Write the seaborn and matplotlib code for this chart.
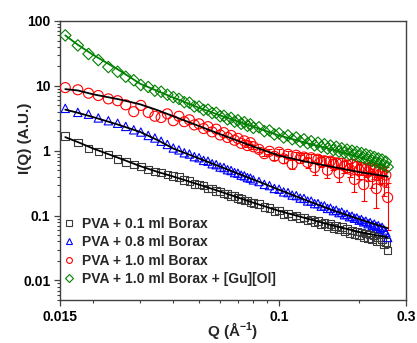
# ==============================
# IMPORT LIBRARIES
# ==============================
import numpy as np
import matplotlib
matplotlib.use('Agg')
import matplotlib.pyplot as plt
from matplotlib.lines import Line2D
from matplotlib.ticker import FixedLocator, FixedFormatter, NullFormatter, LogLocator
import seaborn as sns


# ==============================
# DATA
# ==============================
q = [0.0157, 0.0175, 0.0192, 0.0209, 0.0228, 0.0247, 0.0265, 0.0284, 0.0302, 0.0322,
     0.0341, 0.0360, 0.0380, 0.0400,
     0.042, 0.044, 0.046, 0.048, 0.050, 0.052, 0.054, 0.056, 0.058, 0.060,
     0.062, 0.064, 0.066, 0.068, 0.070, 0.072, 0.074, 0.076, 0.078, 0.080,
     0.084, 0.088, 0.092, 0.096, 0.100, 0.104, 0.108, 0.112, 0.116, 0.120,
     0.124, 0.128, 0.132, 0.136, 0.140, 0.144, 0.148, 0.152, 0.156, 0.160,
     0.164, 0.168, 0.172, 0.176, 0.180, 0.184, 0.188, 0.192, 0.196, 0.200,
     0.204, 0.208, 0.212, 0.216, 0.220, 0.224, 0.228, 0.232, 0.236, 0.240,
     0.244, 0.248, 0.252, 0.256]

i_01 = [1.70, 1.33, 1.08, 0.97, 0.87, 0.75, 0.67, 0.61, 0.57, 0.51, 0.48, 0.46, 0.43, 0.41,
        0.39, 0.35, 0.34, 0.31, 0.30, 0.29, 0.26, 0.26, 0.24, 0.235, 0.22, 0.215, 0.20, 0.20,
        0.185, 0.18, 0.17, 0.17, 0.16, 0.155,
        0.15, 0.135, 0.13, 0.118, 0.12, 0.105, 0.108, 0.097, 0.10, 0.091,
        0.093, 0.084, 0.087, 0.079, 0.082, 0.074, 0.077, 0.069, 0.074, 0.065,
        0.069, 0.061, 0.066, 0.057, 0.062, 0.054, 0.059, 0.051, 0.057, 0.049,
        0.055, 0.047, 0.053, 0.045, 0.051, 0.043, 0.049, 0.041, 0.047, 0.040,
        0.044, 0.036, 0.039, 0.029]

i_08 = [4.5, 3.9, 3.65, 3.2, 2.9, 2.65, 2.37, 2.1, 1.94, 1.72, 1.57, 1.40, 1.25, 1.10,
        1.03, 0.93, 0.89, 0.81, 0.78, 0.71, 0.69, 0.63, 0.61, 0.56, 0.55, 0.51, 0.495, 0.46,
        0.45, 0.42, 0.41, 0.385, 0.378, 0.355,
        0.335, 0.303, 0.29, 0.262, 0.255, 0.232, 0.226, 0.207, 0.203, 0.186,
        0.184, 0.168, 0.167, 0.153, 0.153, 0.14, 0.141, 0.129, 0.13, 0.119,
        0.121, 0.111, 0.113, 0.103, 0.105, 0.096, 0.098, 0.091, 0.092, 0.085,
        0.087, 0.080, 0.082, 0.075, 0.078, 0.071, 0.074, 0.068, 0.070, 0.064,
        0.066, 0.060, 0.055, 0.046]

i_10 = [9.4, 8.7, 7.7, 7.1, 6.3, 5.9, 5.1, 4.0, 5.0, 3.9, 3.4, 3.25, 3.7, 2.9,
        3.4, 2.8, 3.0, 2.5, 2.6, 2.2, 2.35, 1.95, 2.15, 1.75, 1.9, 1.6, 1.72, 1.45,
        1.55, 1.3, 1.42, 1.2, 1.33, 1.15,
        1.05, 0.9, 0.98, 0.82, 0.95, 0.75, 0.88, 0.62, 0.85, 0.76,
        0.80, 0.66, 0.78, 0.55, 0.74, 0.68, 0.70, 0.50, 0.69, 0.62,
        0.65, 0.45, 0.64, 0.58, 0.60, 0.52, 0.62, 0.36, 0.57, 0.50,
        0.55, 0.30, 0.52, 0.47, 0.55, 0.40, 0.50, 0.26, 0.48, 0.44,
        0.46, 0.34, 0.42, 0.19]

err_10 = [0] * 30 + [0.06, 0.06, 0.07, 0.07,
          0.08, 0.08, 0.09, 0.09, 0.10, 0.10, 0.10, 0.10, 0.11, 0.11,
          0.11, 0.11, 0.12, 0.12, 0.12, 0.12, 0.12, 0.12, 0.12, 0.12,
          0.12, 0.12, 0.12, 0.12, 0.13, 0.13, 0.13, 0.13, 0.13, 0.13,
          0.13, 0.13, 0.13, 0.13, 0.13, 0.13, 0.13, 0.13, 0.13, 0.13,
          0.14, 0.14, 0.14, 0.13]

i_gu = [60, 42, 31, 25, 19.5, 16.5, 13.8, 12.2, 10.3, 9.6, 8.4, 8.1, 7.3, 6.7,
        6.3, 5.6, 5.5, 4.8, 4.8, 4.25, 4.3, 3.8, 3.85, 3.4, 3.45, 3.05, 3.2, 2.8,
        2.95, 2.6, 2.75, 2.42, 2.55, 2.25,
        2.3, 2.0, 2.05, 1.78, 1.85, 1.6, 1.72, 1.5, 1.6, 1.38,
        1.5, 1.3, 1.4, 1.21, 1.33, 1.14, 1.26, 1.08, 1.2, 1.02,
        1.15, 0.97, 1.09, 0.93, 1.04, 0.88, 1.0, 0.85, 0.96, 0.82,
        0.92, 0.77, 0.88, 0.73, 0.84, 0.7, 0.8, 0.66, 0.76, 0.63,
        0.73, 0.6, 0.68, 0.56]

# fitted curves
fit_q = [0.0157, 0.0175, 0.02, 0.025, 0.03, 0.035, 0.04, 0.05, 0.06, 0.08, 0.1, 0.13, 0.16, 0.2, 0.256]
fit_01 = [1.62, 1.36, 1.08, 0.77, 0.58, 0.47, 0.40, 0.30, 0.235, 0.158, 0.118, 0.088, 0.070, 0.056, 0.046]
fit_08 = [4.3, 3.85, 3.3, 2.5, 1.95, 1.45, 1.08, 0.76, 0.57, 0.36, 0.25, 0.165, 0.12, 0.088, 0.064]
fit_10 = [8.9, 8.5, 7.4, 6.2, 5.2, 4.2, 3.4, 2.4, 1.8, 1.16, 0.84, 0.66, 0.56, 0.47, 0.40]
fit_gu = [60, 43, 30, 17.5, 10.8, 8.3, 6.6, 4.6, 3.5, 2.35, 1.72, 1.28, 1.03, 0.8, 0.55]

labels = ["PVA + 0.1 ml Borax", "PVA + 0.8 ml Borax",
          "PVA + 1.0 ml Borax", "PVA + 1.0 ml Borax + [Gu][Ol]"]

x_major = [0.015, 0.1, 0.3]
x_major_labels = ["0.015", "0.1", "0.3"]
x_minor = [0.02, 0.03, 0.04, 0.05, 0.06, 0.07, 0.08, 0.09, 0.2]
y_major = [0.01, 0.1, 1, 10, 100]
y_major_labels = ["0.01", "0.1", "1", "10", "100"]


# ==============================
# STYLE
# ==============================
sns.set_style("ticks")
plt.rcParams['font.family'] = ['Liberation Sans', 'DejaVu Sans']
plt.rcParams['font.weight'] = 'bold'
plt.rcParams['mathtext.fontset'] = 'custom'
plt.rcParams['mathtext.rm'] = 'Liberation Sans:bold'
plt.rcParams['mathtext.bf'] = 'Liberation Sans:bold'
plt.rcParams['mathtext.default'] = 'bf'

SPINE = '#404040'

series = [
    (i_01, fit_01, 's', '#3a3a3a', 'black', 30),
    (i_08, fit_08, '^', '#0000ff', 'black', 36),
    (i_10, fit_10, 'o', '#ff0000', 'black', 52),
    (i_gu, fit_gu, 'D', '#008000', '#008000', 34),
]


# ==============================
# PLOT
# ==============================
fig = plt.figure(figsize=(4.17, 3.43), dpi=100)
ax = fig.add_axes([0.1439, 0.1254, 0.8297, 0.8134])
ax.set_xscale('log')
ax.set_yscale('log')

q_arr = np.array(q)
err_arr = np.array(err_10)
i10_arr = np.array(i_10)
mask = err_arr > 0
ax.errorbar(q_arr[mask], i10_arr[mask], yerr=err_arr[mask], fmt='none',
            ecolor='#ff0000', elinewidth=0.8, capsize=2.5, capthick=0.8, zorder=2)

for vals, fit, marker, color, line_color, size in series:
    sns.scatterplot(x=q, y=vals, marker=marker, s=size, color=color,
                    facecolor='none', edgecolor=color, linewidth=0.8,
                    ax=ax, legend=False, zorder=3)

for vals, fit, marker, color, line_color, size in series:
    sns.lineplot(x=fit_q, y=fit, color=line_color, linewidth=1.3,
                 estimator=None, sort=False, ax=ax, zorder=4)

ax.set_xlim(0.015, 0.3)
ax.set_ylim(0.005, 100)

ax.xaxis.set_major_locator(FixedLocator(x_major))
ax.xaxis.set_major_formatter(FixedFormatter(x_major_labels))
ax.xaxis.set_minor_locator(FixedLocator(x_minor))
ax.xaxis.set_minor_formatter(NullFormatter())
ax.yaxis.set_major_locator(FixedLocator(y_major))
ax.yaxis.set_major_formatter(FixedFormatter(y_major_labels))
ax.yaxis.set_minor_locator(LogLocator(base=10, subs=range(2, 10), numticks=20))
ax.yaxis.set_minor_formatter(NullFormatter())

ax.tick_params(which='both', direction='out', top=False, right=False,
               color=SPINE, labelsize=10, labelcolor='black')
ax.tick_params(which='major', length=4, width=0.9, pad=3)
ax.tick_params(which='minor', length=2.2, width=0.8)
for sp in ax.spines.values():
    sp.set_visible(True)
    sp.set_color(SPINE)
    sp.set_linewidth(1.0)

ax.set_xlabel(r"Q (Å$^{-1}$)", fontsize=11, fontweight='bold', labelpad=-3)
ax.set_ylabel("I(Q) (A.U.)", fontsize=11, fontweight='bold')
ax.yaxis.set_label_coords(-0.08, 0.58)

handles = [Line2D([], [], ls='none', marker=m, ms=4.2, mfc='none', mec=c, mew=0.8)
           for _, _, m, c, _, _ in series]
ax.legend(handles, labels, loc='lower left', bbox_to_anchor=(0.0, 0.04),
          frameon=False, fontsize=10, handlelength=0.9, handletextpad=0.5,
          labelspacing=0.32, borderaxespad=0, borderpad=0.2)

fig.savefig("out.png", dpi=100)
